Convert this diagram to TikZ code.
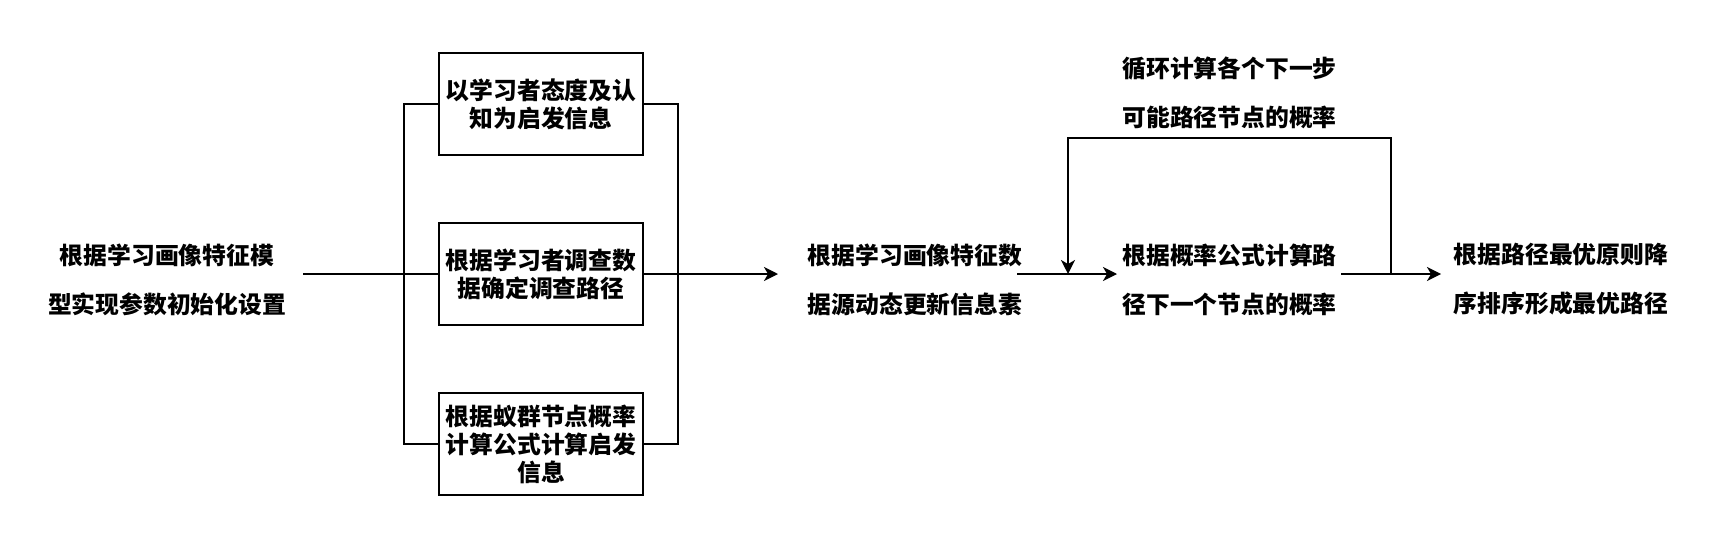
\documentclass[tikz,border=0pt]{standalone}
\usepackage{fontspec}
\newfontfamily\cjk{Noto Sans CJK SC}
\usetikzlibrary{arrows.meta}

\begin{document}
\begin{tikzpicture}[x=0.5pt,y=-0.5pt,line width=0.9pt,
  box/.style={draw,minimum width=102pt,minimum height=51pt,inner sep=0pt,align=center,font=\cjk\bfseries\fontsize{11.9}{14}\selectfont},
  txt/.style={align=center,inner sep=0pt,font=\cjk\bfseries\fontsize{11.9}{24.5}\selectfont},
  arr/.style={-{Stealth[length=7pt,width=7pt,inset=2pt]}}]
  \useasboundingbox[fill=white] (0,0) rectangle (1728,536);
  \node[txt] (init) at (167,279.5) {根据学习画像特征模\\型实现参数初始化设置};
  \node[box] (heur) at (541,104) {以学习者态度及认\\知为启发信息};
  \node[box] (survey) at (541,274) {根据学习者调查数\\据确定调查路径};
  \node[box] (antcol) at (541,444) {根据蚁群节点概率\\计算公式计算启发\\信息};
  \node[txt] (update) at (915,279.5) {根据学习画像特征数\\据源动态更新信息素};
  \node[txt] (prob) at (1229.5,279.5) {根据概率公式计算路\\径下一个节点的概率};
  \node[txt] (looplbl) at (1229.5,92.5) {循环计算各个下一步\\可能路径节点的概率};
  \node[txt] (best) at (1561,279.5) {根据路径最优原则降\\序排序形成最优路径};
  \coordinate (inout) at (303,274);
  \coordinate (updin) at (778,274);
  \coordinate (updout) at (1017,274);
  \coordinate (probin) at (1117,274);
  \coordinate (probout) at (1341,274);
  \coordinate (bestin) at (1441,274);
  \coordinate (loopin) at (1068,274);
  \coordinate (loopout) at (1391,274);
  \draw (inout) -- (survey.west);
  \draw (heur.west) -- ++(-34,0) |- (antcol.west);
  \draw (heur.east) -- ++(34,0) |- (antcol.east);
  \draw[arr] (survey.east) -- (updin);
  \draw[arr] (updout) -- (probin);
  \draw[arr] (probout) -- (bestin);
  \draw[arr] (loopout) -- (1391,138) -| (loopin);
\end{tikzpicture}
\end{document}
